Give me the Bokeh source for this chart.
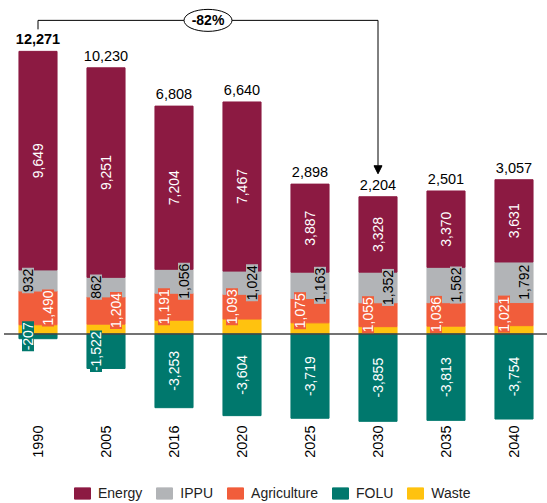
import math

from bokeh.core.properties import value
from bokeh.embed import file_html
from bokeh.models import (Arrow, ColumnDataSource, Legend, LegendItem,
                          NormalHead, Range1d)
from bokeh.plotting import figure
from bokeh.resources import INLINE

# Emissions by sector (kt CO2e)
years = ["1990", "2005", "2016", "2020", "2025", "2030", "2035", "2040"]
energy = [9649, 9251, 7204, 7467, 3887, 3328, 3370, 3631]
ippu = [932, 862, 1056, 1024, 1163, 1352, 1562, 1792]
agriculture = [1490, 1204, 1191, 1093, 1075, 1055, 1036, 1021]
folu = [-207, -1522, -3253, -3604, -3719, -3855, -3813, -3754]
waste = [407, 435, 610, 660, 492, 324, 346, 367]

# which side of the bar the small IPPU / Agriculture labels sit on
ippu_side = [-1, -1, 1, 1, 1, 1, 1, 1]
folu_shift = [-1, -1, 0, 0, 0, 0, 0, 0]

C_ENERGY = "#8C1A42"
C_IPPU = "#B2B4B7"
C_AGRI = "#F15D3B"
C_FOLU = "#00786D"
C_WASTE = "#FFC20F"
FONT = "Liberation Sans"

W, H = 547, 503
PITCH = 68.0          # px between bar centres
FIRST = 37.5          # px, centre of the first bar
ZERO = 333.5          # px from top, position of the zero line
SCALE = 0.02265       # px per kt
PX = 1.0 / SCALE      # kt per px

n = len(years)
idx = list(range(n))
totals = [e + i + a + f + w for e, i, a, f, w in zip(energy, ippu, agriculture, folu, waste)]
tops = [e + i + a + w for e, i, a, w in zip(energy, ippu, agriculture, waste)]

src = ColumnDataSource(dict(
    x=idx, energy=energy, ippu=ippu, agri=agriculture, folu=folu, waste=waste,
    top=tops,
    energy_c=[w + a + i + e / 2 for w, a, i, e in zip(waste, agriculture, ippu, energy)],
    ippu_c=[w + a + i / 2 for w, a, i in zip(waste, agriculture, ippu)],
    agri_c=[w + a / 2 for w, a in zip(waste, agriculture)],
    folu_c=[f / 2 for f in folu],
    energy_t=[f"{v:,}" for v in energy],
    ippu_t=[f"{v:,}" for v in ippu],
    agri_t=[f"{v:,}" for v in agriculture],
    folu_t=[f"{v:,}" for v in folu],
    total_t=[f"{v:,}" for v in totals],
    total_style=["bold"] + ["normal"] * (n - 1),
    ippu_dx=[10 * s for s in ippu_side],
    agri_dx=[-10 * s for s in ippu_side],
    folu_dx=[10 * s for s in folu_shift],
))

p = figure(width=W, height=H,
           x_range=Range1d(-FIRST / PITCH, (W - FIRST) / PITCH),
           y_range=Range1d(-(H - ZERO) * PX, ZERO * PX),
           x_axis_type=None, y_axis_type=None,
           output_backend="svg", toolbar_location=None,
           min_border=0, outline_line_color=None)
p.grid.visible = False
p.background_fill_color = "white"
p.border_fill_color = "white"

BAR_W = 0.56
stack = p.vbar_stack(["waste", "agri", "ippu", "energy"], x="x", width=BAR_W,
                     color=[C_WASTE, C_AGRI, C_IPPU, C_ENERGY], source=src)
r_folu = p.vbar(x="x", top="folu", bottom=0, width=BAR_W, color=C_FOLU, source=src)

# zero line
p.segment(x0=[idx[0] - 0.5], y0=[0], x1=[idx[-1] + 0.5], y1=[0],
          line_color="#444444", line_width=1.4)

label_kw = dict(angle=math.pi / 2, text_align="center", text_baseline="middle",
                text_font=value(FONT), text_font_size="14px", source=src)

p.text(x="x", y="energy_c", text="energy_t", text_color="white", **label_kw)
p.text(x="x", y="ippu_c", text="ippu_t", text_color="black", x_offset="ippu_dx",
       background_fill_color=C_IPPU, padding=1, **label_kw)
p.text(x="x", y="agri_c", text="agri_t", text_color="white", x_offset="agri_dx",
       background_fill_color=C_AGRI, padding=1, **label_kw)
p.text(x="x", y="folu_c", text="folu_t", text_color="white", x_offset="folu_dx",
       background_fill_color=C_FOLU, padding=1, **label_kw)

# net totals above each bar, lifted a few pixels off the bar top
p.text(x="x", y="top", text="total_t", text_align="center", text_baseline="bottom",
       y_offset=-7, text_font=value(FONT), text_font_size="14.5px",
       text_font_style="total_style", text_color="black", source=src)

# year labels under the bars
YEAR_TOP = 425
p.text(x=idx, y=[(ZERO - YEAR_TOP) * PX] * n, text=years, angle=math.pi / 2,
       text_align="right", text_baseline="middle", text_font=value(FONT),
       text_font_size="14.5px", text_color="black")

# change between 1990 and 2030
i0, i1 = 0, years.index("2030")
pct = round((totals[i1] - totals[i0]) / totals[i0] * 100)
bracket_y = tops[i0] + 31 * PX
p.segment(x0=[i0, i0], y0=[tops[i0] + 22 * PX, bracket_y],
          x1=[i0, i1], y1=[bracket_y, bracket_y],
          line_color="black", line_width=1)
p.add_layout(Arrow(end=NormalHead(size=8, fill_color="black", line_color="black"),
                   x_start=i1, y_start=bracket_y, x_end=i1, y_end=tops[i1] + 23 * PX,
                   line_color="black", line_width=1))
mid = (i0 + i1) / 2
p.ellipse(x=[mid], y=[bracket_y], width=48, height=22,
          width_units="screen", height_units="screen",
          fill_color="white", line_color="black", line_width=1)
p.text(x=[mid], y=[bracket_y], text=[f"{pct}%"], text_align="center",
       text_baseline="middle", text_font=value(FONT), text_font_size="14px",
       text_font_style="bold", text_color="black")

legend = Legend(items=[
    LegendItem(label="Energy", renderers=[stack[3]]),
    LegendItem(label="IPPU", renderers=[stack[2]]),
    LegendItem(label="Agriculture", renderers=[stack[1]]),
    LegendItem(label="FOLU", renderers=[r_folu]),
    LegendItem(label="Waste", renderers=[stack[0]]),
], orientation="horizontal", location=(72, 2), glyph_width=20, glyph_height=14,
    label_height=14, label_standoff=6, spacing=12, padding=0, margin=0,
    border_line_color=None, background_fill_alpha=0,
    label_text_font=FONT, label_text_font_size="14px", label_text_color="#222222")
p.add_layout(legend)

open("out.html", "w").write(file_html(p, INLINE))
